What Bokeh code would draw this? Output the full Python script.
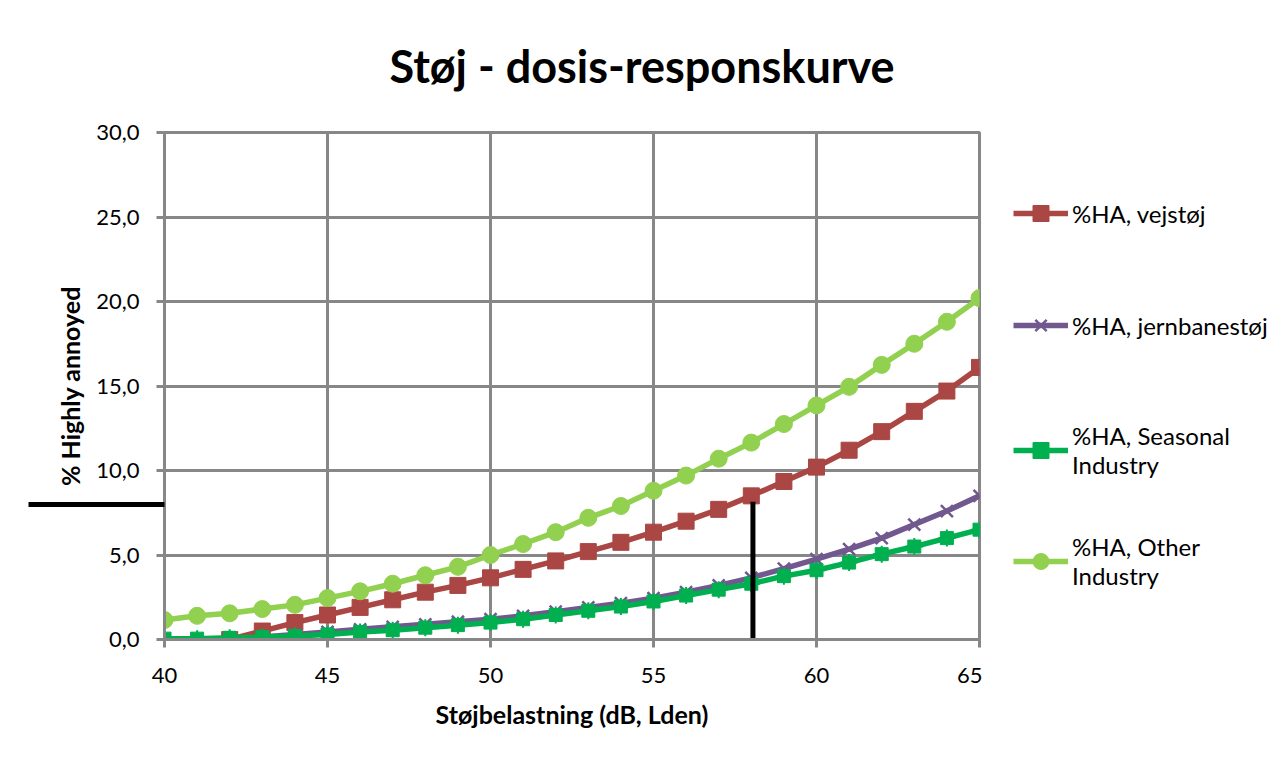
from bokeh.plotting import figure
from bokeh.layouts import row
from bokeh.models import Legend, LegendItem, CustomJSTickFormatter, FixedTicker, Range1d
from bokeh.embed import file_html
from bokeh.resources import INLINE

# ---- data ----
lden_all = list(range(40, 66))
lden_from42 = list(range(42, 66))

ha_road = [0.0, 0.5, 1.0, 1.45, 1.9, 2.35, 2.8, 3.2, 3.65, 4.15, 4.65, 5.2,
           5.75, 6.35, 7.0, 7.7, 8.5, 9.35, 10.2, 11.2, 12.3, 13.5, 14.7, 16.1]
ha_rail = [0.0, 0.15, 0.3, 0.45, 0.6, 0.75, 0.9, 1.05, 1.2, 1.4, 1.65, 1.9,
           2.15, 2.45, 2.8, 3.2, 3.65, 4.2, 4.75, 5.35, 6.0, 6.8, 7.6, 8.5]
ha_seasonal = [0.05, 0.05, 0.1, 0.15, 0.2, 0.3, 0.45, 0.55, 0.7, 0.85, 1.0, 1.2, 1.45,
               1.7, 1.95, 2.25, 2.6, 2.95, 3.3, 3.75, 4.1, 4.55, 5.05, 5.5, 6.0, 6.5]
ha_other = [1.15, 1.4, 1.55, 1.8, 2.05, 2.45, 2.85, 3.3, 3.8, 4.3, 5.0, 5.65, 6.35,
            7.2, 7.9, 8.8, 9.7, 10.7, 11.65, 12.75, 13.85, 14.95, 16.25, 17.5, 18.8, 20.2]

series_labels = ["%HA, vejstøj", "%HA, jernbanestøj",
                 "%HA, Seasonal\nIndustry", "%HA, Other\nIndustry"]

x_ticks = [40, 45, 50, 55, 60, 65]
y_ticks = [0, 5, 10, 15, 20, 25, 30]

ref_level = [8.0]     # horizontal reference line (% HA)
ref_lden = [58.05]    # vertical reference line (dB)

title_text = "Støj - dosis-responskurve"
x_title = "Støjbelastning (dB, Lden)"
y_title = "% Highly annoyed"

# ---- styles ----
C_ROAD = "#AA4643"
C_RAIL = "#71588F"
C_SEAS = "#00B050"
C_OTHER = "#92D050"
GRID = "#878787"
FONT = "Lato"
LW = 5.5

p = figure(width=982, height=758, output_backend="svg", toolbar_location=None,
           x_range=Range1d(40, 65), y_range=Range1d(0, 30),
           min_border_left=164, min_border_right=3, min_border_top=131,
           min_border_bottom=119)
p.background_fill_color = "white"
p.border_fill_color = "white"
p.outline_line_color = GRID
p.outline_line_width = 3

p.title.text = title_text
p.title.align = "left"
p.title.offset = 225
p.title.vertical_align = "top"
p.title.standoff = 76
p.title.text_font = FONT
p.title.text_font_size = "45px"
p.title.text_font_style = "bold"
p.title.text_color = "black"

for ax in (p.xaxis[0], p.yaxis[0]):
    ax.axis_line_color = GRID
    ax.axis_line_width = 3
    ax.major_tick_line_color = GRID
    ax.major_tick_line_width = 3
    ax.major_tick_out = 8
    ax.major_tick_in = 0
    ax.minor_tick_line_color = None
    ax.major_label_text_font = FONT
    ax.major_label_text_font_size = "22px"
    ax.major_label_text_color = "black"
    ax.axis_label_text_font = FONT
    ax.axis_label_text_font_style = "bold"
    ax.axis_label_text_font_size = "25px"
    ax.axis_label_text_color = "black"

p.xaxis.ticker = FixedTicker(ticks=x_ticks)
# the reference level is drawn as a long black minor tick reaching out left of the axis
p.yaxis.ticker = FixedTicker(ticks=y_ticks, minor_ticks=ref_level)
p.yaxis.minor_tick_line_color = "black"
p.yaxis.minor_tick_line_width = 5
p.yaxis.minor_tick_out = 136
p.yaxis.minor_tick_in = 0
p.yaxis.formatter = CustomJSTickFormatter(code="return tick.toFixed(1).replace('.', ',');")
p.xaxis.major_label_standoff = 20
p.yaxis.major_label_standoff = -111
p.xaxis.axis_label = x_title
p.yaxis.axis_label = y_title
p.xaxis.axis_label_standoff = 13
p.yaxis.axis_label_standoff = 8

p.xgrid.ticker = FixedTicker(ticks=x_ticks)
p.ygrid.ticker = FixedTicker(ticks=y_ticks)
p.grid.grid_line_color = GRID
p.grid.grid_line_width = 3


def draw_series(fig, xs, ys):
    out = []
    out.append([fig.line(xs[0], ys[0], line_color=C_ROAD, line_width=LW),
                fig.scatter(xs[0], ys[0], marker="square", size=16, fill_color=C_ROAD, line_color=C_ROAD)])
    out.append([fig.line(xs[1], ys[1], line_color=C_RAIL, line_width=LW),
                fig.scatter(xs[1], ys[1], marker="x", size=17, line_color=C_RAIL, line_width=2.5)])
    out.append([fig.line(xs[2], ys[2], line_color=C_SEAS, line_width=LW),
                fig.scatter(xs[2], ys[2], marker="square", size=13, fill_color=C_SEAS, line_color=C_SEAS),
                fig.scatter(xs[2], ys[2], marker="asterisk", size=17, line_color=C_SEAS, line_width=2)])
    out.append([fig.line(xs[3], ys[3], line_color=C_OTHER, line_width=LW),
                fig.scatter(xs[3], ys[3], marker="circle", size=17, fill_color=C_OTHER, line_color=C_OTHER)])
    return out


series_x = [lden_from42, lden_from42, lden_all, lden_all]
series_y = [ha_road, ha_rail, ha_seasonal, ha_other]
draw_series(p, series_x, series_y)

# vertical reference line, from the reference level down to the x axis
p.segment(x0=ref_lden, y0=[v + 0.15 for v in ref_level], x1=ref_lden, y1=[0.0],
          line_color="black", line_width=5)

# ---- legend panel (separate canvas to the right of the chart) ----
# the series are drawn here too, but fall outside this panel's ranges (only legend glyphs show)
lg = figure(width=285, height=758, output_backend="svg", toolbar_location=None,
            x_range=Range1d(0, 1), y_range=Range1d(0, 1),
            x_axis_location=None, y_axis_location=None, min_border=0)
lg.outline_line_color = None
lg.grid.grid_line_color = None
lg.background_fill_color = "white"
lg.border_fill_color = "white"

legend_renderers = draw_series(lg, series_x, series_y)
legend_bottoms = [406.0, 294.0, 160.2, 49.2]
for lab, rends, vy in zip(series_labels, legend_renderers, legend_bottoms):
    lg.add_layout(Legend(items=[LegendItem(label=lab, renderers=rends)], location=(31, vy),
                         padding=0, margin=0, border_line_color=None, background_fill_alpha=0,
                         glyph_width=55, glyph_height=40, label_standoff=4,
                         label_text_font=FONT, label_text_font_size="24px",
                         label_text_color="black"), "center")

layout = row(p, lg, spacing=0)
open("out.html", "w").write(file_html(layout, INLINE))
